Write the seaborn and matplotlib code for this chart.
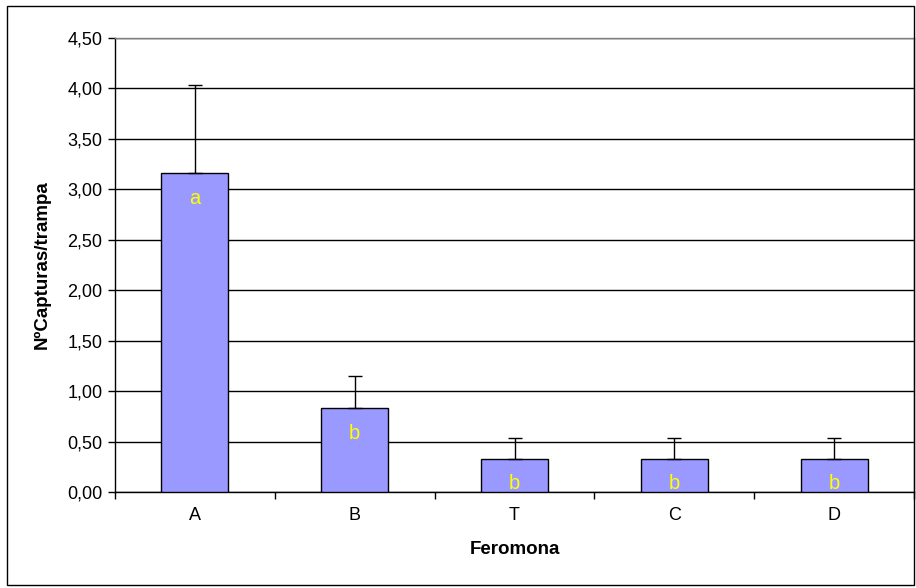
import numpy as np
import pandas as pd
import matplotlib
matplotlib.use("Agg")
import matplotlib.pyplot as plt
import seaborn as sns
from matplotlib.ticker import FuncFormatter, FixedLocator
from matplotlib.patches import Rectangle

feromonas = ["A", "B", "T", "C", "D"]
capturas = [3.16, 0.83, 0.33, 0.33, 0.33]
error_sup = [0.87, 0.32, 0.21, 0.21, 0.21]
letras = ["a", "b", "b", "b", "b"]

sns.set_style("white")
plt.rcParams['font.family'] = ['Liberation Sans', 'DejaVu Sans']
plt.rcParams.update({"text.color": "black", "axes.labelcolor": "black",
                     "xtick.color": "black", "ytick.color": "black"})

df = pd.DataFrame({"Feromona": feromonas, "Capturas": capturas})

fig = plt.figure(figsize=(9.16, 5.88), dpi=100)
ax = fig.add_axes([115 / 916, 1 - 492 / 588, 799 / 916, 454 / 588])

# marco exterior del gráfico
fig.patches.append(Rectangle((7 / 916, 3 / 588), 907 / 916, 579 / 588, transform=fig.transFigure,
                             fill=False, edgecolor="black", linewidth=1))

sns.barplot(data=df, x="Feromona", y="Capturas", color="#9999ff", saturation=1,
            width=0.42, edgecolor="black", linewidth=1, errorbar=None, ax=ax, zorder=3)

ax.errorbar(range(len(feromonas)), capturas, yerr=[np.zeros(len(feromonas)), error_sup],
            fmt="none", ecolor="black", elinewidth=1, capsize=5, capthick=1, zorder=4)

for i, (v, l) in enumerate(zip(capturas, letras)):
    ax.annotate(l, (i, v), xytext=(0, -18), textcoords="offset points", ha="center", va="center",
                color="#ffff00", fontsize=14.5, zorder=5)

ax.set_ylim(0, 4.5)
ax.set_xlim(-0.5, 4.5)
ax.set_yticks(np.arange(0, 4.51, 0.5))
ax.yaxis.set_major_formatter(FuncFormatter(lambda v, p: f"{v:.2f}".replace(".", ",")))
ax.yaxis.grid(True, color="black", linewidth=1)
ax.set_axisbelow(True)

ax.tick_params(axis="y", direction="out", length=5, width=1, color="black", labelsize=13, left=True, pad=4)
ax.tick_params(axis="x", which="major", length=0, labelsize=13, pad=11)
ax.xaxis.set_minor_locator(FixedLocator(np.arange(-0.5, 4.6, 1)))
ax.tick_params(axis="x", which="minor", direction="out", length=5, width=1, color="black", bottom=True)

for s in ["left", "bottom"]:
    ax.spines[s].set_color("black")
    ax.spines[s].set_linewidth(1)
for s in ["top", "right"]:
    ax.spines[s].set_color("#808080")
    ax.spines[s].set_linewidth(1)

ax.set_xlabel("Feromona", fontsize=13.5, fontweight="bold", labelpad=12)
ax.set_ylabel("NºCapturas/trampa", fontsize=13.5, fontweight="bold", labelpad=12)

fig.savefig("out.png", dpi=100)
